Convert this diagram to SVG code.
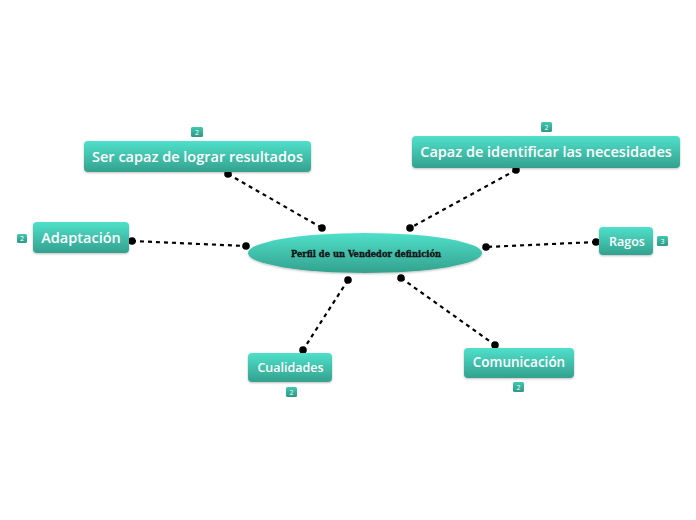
<svg xmlns="http://www.w3.org/2000/svg" width="696" height="520" viewBox="0 0 696 520">
<defs>
<linearGradient id="g" x1="0" y1="0" x2="0" y2="1">
<stop offset="0" stop-color="#4FE0CA"/>
<stop offset="1" stop-color="#33A18E"/>
</linearGradient>
<linearGradient id="gb" x1="0" y1="0" x2="0" y2="1">
<stop offset="0" stop-color="#3FC9B0"/>
<stop offset="1" stop-color="#2E9884"/>
</linearGradient>
<filter id="sh" x="-10%" y="-20%" width="120%" height="150%">
<feDropShadow dx="0" dy="1" stdDeviation="1" flood-color="#000" flood-opacity="0.25"/>
</filter>
</defs>
<style>
.box{fill:url(#g);filter:url(#sh)}
.t{font-family:"Open Sans","Noto Sans",sans-serif;font-weight:600;fill:#fff;text-anchor:middle}
.b{fill:url(#gb)}
.bt{font-family:"Open Sans","Noto Sans",sans-serif;font-size:7px;fill:#fff;text-anchor:middle}
.c{stroke:#000;stroke-width:2.2;stroke-dasharray:4 4;fill:none}
.d{fill:#000}
</style>
<rect width="696" height="520" fill="#fff"/>
<g id="connectors">
<line class="c" x1="228" y1="174" x2="322" y2="228"/>
<circle class="d" cx="228" cy="174" r="3.8"/><circle class="d" cx="322" cy="228" r="3.8"/>
<line class="c" x1="516" y1="170" x2="410" y2="228"/>
<circle class="d" cx="516" cy="170" r="3.8"/><circle class="d" cx="410" cy="228" r="3.8"/>
<line class="c" x1="132" y1="241" x2="246" y2="246"/>
<circle class="d" cx="132" cy="241" r="3.8"/><circle class="d" cx="246" cy="246" r="3.8"/>
<line class="c" x1="596" y1="242" x2="486" y2="247"/>
<circle class="d" cx="596" cy="242" r="3.8"/><circle class="d" cx="486" cy="247" r="3.8"/>
<line class="c" x1="348" y1="280" x2="303" y2="350"/>
<circle class="d" cx="348" cy="280" r="3.8"/><circle class="d" cx="303" cy="350" r="3.8"/>
<line class="c" x1="401" y1="278" x2="495" y2="345"/>
<circle class="d" cx="401" cy="278" r="3.8"/><circle class="d" cx="495" cy="345" r="3.8"/>
</g>
<g id="center">
<ellipse cx="365" cy="253" rx="117" ry="20" fill="url(#g)" filter="url(#sh)"/>
<text x="366" y="257" font-family="'DejaVu Serif',serif" font-weight="bold" font-size="9.5" fill="#111" stroke="#111" stroke-width="0.35" text-anchor="middle" textLength="150" lengthAdjust="spacingAndGlyphs">Perfil de un Vendedor definición</text>
</g>
<g id="n1">
<rect class="b" x="191" y="127" width="12" height="10" rx="1.5"/><text class="bt" x="197" y="134.5">2</text>
<rect class="box" x="84" y="141" width="227" height="31" rx="4"/>
<text class="t" x="197.5" y="161.5" font-size="14.5">Ser capaz de lograr resultados</text>
</g>
<g id="n2">
<rect class="b" x="541" y="122" width="11" height="10" rx="1.5"/><text class="bt" x="546.5" y="129.5">2</text>
<rect class="box" x="412" y="136" width="268" height="32" rx="4"/>
<text class="t" x="546" y="157" font-size="14.5">Capaz de identificar las necesidades</text>
</g>
<g id="n3">
<rect class="b" x="17" y="234" width="10" height="9" rx="1.5"/><text class="bt" x="22" y="241">2</text>
<rect class="box" x="33" y="222" width="96" height="31" rx="4"/>
<text class="t" x="81" y="243" font-size="14.5">Adaptación</text>
</g>
<g id="n4">
<rect class="b" x="657" y="236" width="11" height="10" rx="1.5"/><text class="bt" x="662.5" y="243.5">3</text>
<rect class="box" x="599" y="227" width="54" height="28" rx="4"/>
<text class="t" x="627" y="245.5" font-size="12.5">Ragos</text>
</g>
<g id="n5">
<rect class="b" x="286" y="387" width="11" height="10" rx="1.5"/><text class="bt" x="291.5" y="394.5">2</text>
<rect class="box" x="248" y="353" width="84" height="29" rx="4"/>
<text class="t" x="290.5" y="372" font-size="12.5">Cualidades</text>
</g>
<g id="n6">
<rect class="b" x="513" y="382" width="11" height="10" rx="1.5"/><text class="bt" x="518.5" y="389.5">2</text>
<rect class="box" x="464" y="348" width="110" height="30" rx="4"/>
<text class="t" x="519" y="367" font-size="13.5">Comunicación</text>
</g>
</svg>
